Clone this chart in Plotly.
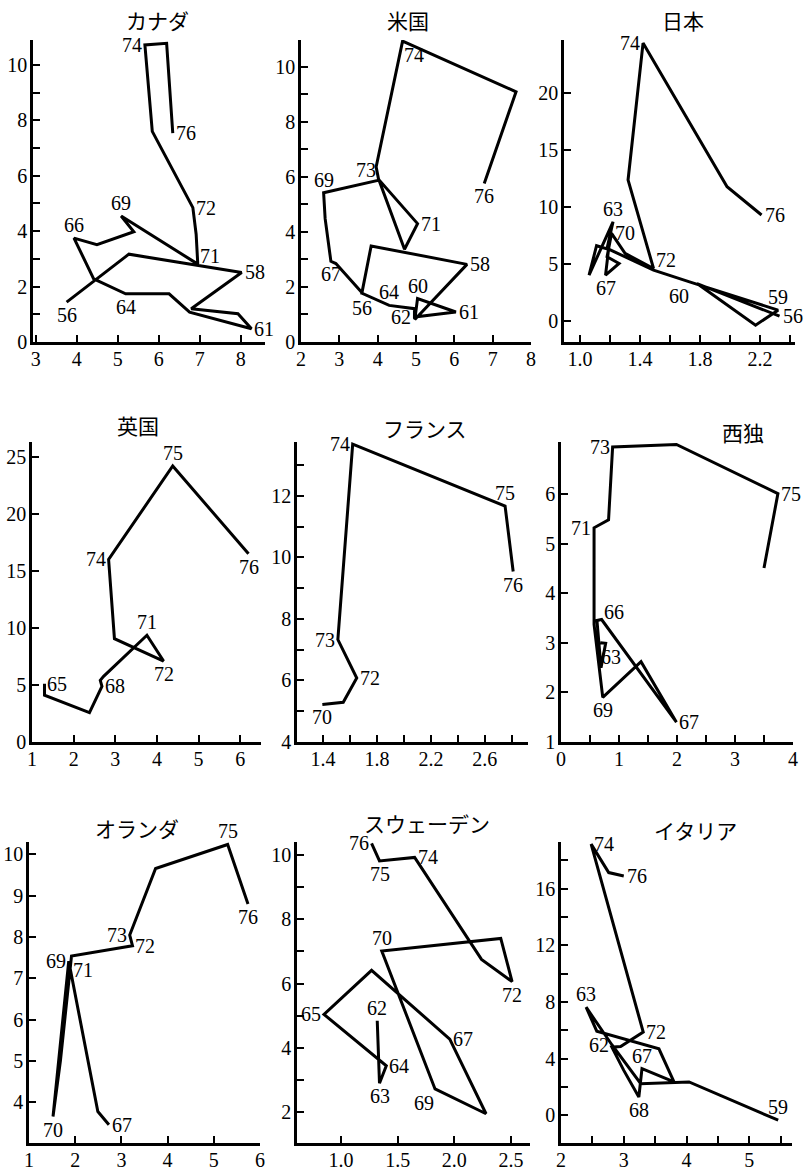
import plotly.graph_objects as go

W, H = 812, 1170

# ---------------- data (x = unemployment %, y = inflation %) ----------------
CAN_YEAR = [56, 57, 58, 59, 60, 61, 62, 63, 64, 65, 66, 67, 68, 69, 71, None, 72, 73, 74, 75, 76]
CAN_U = [3.75, 5.27, 8.02, 6.79, 7.93, 8.26, 6.75, 6.25, 5.19, 4.41, 3.93, 4.49, 5.39, 5.08, 6.95, 6.91, 6.83, 5.84, 5.66, 6.19, 6.34]
CAN_P = [1.44, 3.17, 2.51, 1.20, 1.02, 0.48, 1.08, 1.74, 1.74, 2.28, 3.75, 3.51, 3.98, 4.55, 2.81, 3.89, 4.85, 7.60, 10.72, 10.78, 7.54]

USA_YEAR = [56, 57, 58, 59, 60, 61, 62, 63, 64, 65, 66, 67, 68, 69, 70, 71, 72, 73, None, 74, 75, 76]
USA_U = [3.58, 3.83, 6.33, 4.97, 5.04, 6.04, 4.96, 4.96, 4.30, 3.61, 2.91, 2.78, 2.63, 2.59, 4.04, 5.04, 4.70, 4.02, 3.96, 4.65, 7.61, 6.78]
USA_P = [1.72, 3.49, 2.82, 0.82, 1.58, 1.09, 0.91, 1.21, 1.33, 1.76, 2.85, 2.93, 4.48, 5.42, 5.88, 4.30, 3.37, 5.94, 6.36, 10.93, 9.09, 5.76]

JPN_YEAR = [56, 57, 58, 59, 60, 61, 62, 63, 64, 65, 66, 67, 68, 69, 70, 71, 72, 73, 74, 75, 76]
JPN_U = [2.33, 1.78, 2.17, 2.32, 1.73, 1.49, 1.18, 1.22, 1.06, 1.11, 1.19, 1.17, 1.26, 1.18, 1.21, 1.30, 1.49, 1.32, 1.42, 1.98, 2.21]
JPN_P = [0.41, 3.27, -0.38, 0.94, 3.42, 4.44, 6.35, 8.68, 4.01, 6.58, 6.26, 4.01, 5.03, 5.61, 7.66, 5.91, 4.59, 12.34, 24.33, 11.75, 9.27]

GBR_YEAR = [65, 66, 67, 68, 69, 70, 71, 72, 73, 74, 75, 76]
GBR_U = [1.30, 1.30, 2.38, 2.68, 2.64, 2.72, 3.76, 4.16, 2.98, 2.84, 4.38, 6.20]
GBR_P = [5.10, 4.10, 2.57, 4.88, 5.41, 5.76, 9.36, 7.10, 9.06, 16.0, 24.2, 16.5]

FRA_YEAR = [70, 71, 72, 73, 74, 75, 76]
FRA_U = [1.395, 1.55, 1.65, 1.51, 1.62, 2.75, 2.81]
FRA_P = [5.22, 5.29, 6.08, 7.33, 13.68, 11.67, 9.54]

DEU_YEAR = [63, None, 64, 65, 66, 67, 68, 69, 70, 71, 72, 73, 74, 75, 76]
DEU_U = [0.68, 0.77, 0.69, 0.62, 0.70, 1.99, 1.38, 0.72, 0.57, 0.57, 0.82, 0.89, 1.99, 3.74, 3.50]
DEU_P = [3.00, 2.99, 2.50, 3.45, 3.47, 1.40, 2.62, 1.90, 3.37, 5.32, 5.48, 6.95, 7.00, 6.01, 4.51]

NLD_YEAR = [67, 68, 69, 70, None, 71, 72, 73, 74, 75, 76]
NLD_U = [2.73, 2.49, 1.86, 1.52, 1.68, 1.92, 3.24, 3.18, 3.74, 5.30, 5.74]
NLD_P = [3.46, 3.78, 7.42, 3.66, 5.01, 7.54, 7.79, 8.05, 9.66, 10.24, 8.80]

SWE_YEAR = [62, 63, 64, 65, 66, 67, 68, 69, 70, 71, 72, 73, 74, 75, 76]
SWE_U = [1.32, 1.34, 1.40, 0.85, 1.27, 1.96, 2.28, 1.83, 1.36, 2.41, 2.51, 2.24, 1.65, 1.34, 1.27]
SWE_P = [4.84, 2.90, 3.44, 5.04, 6.41, 4.27, 1.95, 2.72, 7.01, 7.40, 6.06, 6.75, 9.92, 9.81, 10.36]

ITA_YEAR = [59, 60, 61, 62, 63, 64, 65, 66, 67, 68, 69, 70, 71, 72, 74, 75, 76]
ITA_U = [5.46, 4.04, 3.27, 2.81, 2.40, 2.57, 3.56, 3.80, 3.29, 3.24, 3.00, 2.81, 2.95, 3.31, 2.48, 2.76, 3.00]
ITA_P = [-0.35, 2.35, 2.23, 4.98, 7.63, 5.94, 4.69, 2.35, 3.29, 1.29, 3.17, 4.81, 4.86, 5.87, 19.15, 17.14, 16.90]

# year labels shown on each curve, with the side they sit on
CAN_LAB = {74: "l", 76: "r", 72: "r", 69: "t", 66: "t", 71: "tr", 58: "r", 56: "b", 64: "b", 61: "r"}
USA_LAB = {74: "br", 73: "tl", 69: "t", 71: "r", 67: "b", 58: "r", 56: "b", 64: "t", 60: "t", 62: "l", 61: "r", 76: "b"}
JPN_LAB = {74: "l", 63: "t", 70: "r", 72: "tr", 67: "b", 60: "bl", 59: "t", 56: "r", 76: "r"}
GBR_LAB = {65: "r", 68: "r", 71: "t", 72: "b", 74: "l", 75: "t", 76: "b"}
FRA_LAB = {74: "l", 75: "t", 76: "b", 73: "l", 72: "r", 70: "b"}
DEU_LAB = {73: "l", 71: "l", 66: "tr", 63: "br", 69: "b", 67: "r", 75: "r"}
NLD_LAB = {75: "t", 76: "b", 73: "l", 72: "r", 69: "l", 71: "br", 70: "b", 67: "r"}
SWE_LAB = {76: "l", 75: "b", 74: "r", 70: "t", 72: "b", 65: "l", 62: "t", 64: "r", 63: "b", 69: "bl", 67: "r"}
ITA_LAB = {74: "r", 76: "r", 63: "t", 72: "r", 62: "l", 67: "t", 68: "b", 59: "t"}

TITLES = ["カナダ", "米国", "日本", "英国", "フランス", "西独", "オランダ", "スウェーデン", "イタリア"]

# tick values / labels
CAN_XT = [3, 4, 5, 6, 7, 8]; CAN_XL = ["3", "4", "5", "6", "7", "8"]
CAN_YT = list(range(0, 11)); CAN_YL = ["0", "", "2", "", "4", "", "6", "", "8", "", "10"]
USA_XT = [2, 3, 4, 5, 6, 7, 8]; USA_XL = ["2", "3", "4", "5", "6", "7", "8"]
USA_YT = list(range(0, 11)); USA_YL = ["0", "", "2", "", "4", "", "6", "", "8", "", "10"]
JPN_XT = [1.0, 1.2, 1.4, 1.6, 1.8, 2.0, 2.2, 2.4]; JPN_XL = ["1.0", "", "1.4", "", "1.8", "", "2.2", ""]
JPN_YT = [0, 5, 10, 15, 20]; JPN_YL = ["0", "5", "10", "15", "20"]
GBR_XT = [1, 2, 3, 4, 5, 6]; GBR_XL = ["1", "2", "3", "4", "5", "6"]
GBR_YT = [0, 5, 10, 15, 20, 25]; GBR_YL = ["0", "5", "10", "15", "20", "25"]
FRA_XT = [1.4, 1.6, 1.8, 2.0, 2.2, 2.4, 2.6, 2.8]; FRA_XL = ["1.4", "", "1.8", "", "2.2", "", "2.6", ""]
FRA_YT = list(range(4, 14)); FRA_YL = ["4", "", "6", "", "8", "", "10", "", "12", ""]
DEU_XT = [0, 0.5, 1, 1.5, 2, 2.5, 3, 3.5, 4]; DEU_XL = ["0", "", "1", "", "2", "", "3", "", "4"]
DEU_YT = [1, 2, 3, 4, 5, 6]; DEU_YL = ["1", "2", "3", "4", "5", "6"]
NLD_XT = [1, 2, 3, 4, 5, 6]; NLD_XL = ["1", "2", "3", "4", "5", "6"]
NLD_YT = [4, 5, 6, 7, 8, 9, 10]; NLD_YL = ["4", "5", "6", "7", "8", "9", "10"]
SWE_XT = [1.0, 1.5, 2.0, 2.5]; SWE_XL = ["1.0", "1.5", "2.0", "2.5"]
SWE_YT = list(range(2, 11)); SWE_YL = ["2", "", "4", "", "6", "", "8", "", "10"]
ITA_XT = [2, 2.5, 3, 3.5, 4, 4.5, 5, 5.5]; ITA_XL = ["2", "", "3", "", "4", "", "5", ""]
ITA_YT = list(range(0, 19, 2)); ITA_YL = ["0", "", "4", "", "8", "", "12", "", "16", ""]

# ---------------- layout of the 9 panels (pixel boxes) ----------------
panels = [
    (CAN_YEAR, CAN_U, CAN_P, CAN_LAB, CAN_XT, CAN_XL, CAN_YT, CAN_YL, (33, 265), (40, 342), (2.93, 8.59), (0, 10.9), (157, 20)),
    (USA_YEAR, USA_U, USA_P, USA_LAB, USA_XT, USA_XL, USA_YT, USA_YL, (301, 531), (40, 342), (2.0, 8.0), (0, 10.97), (408, 20)),
    (JPN_YEAR, JPN_U, JPN_P, JPN_LAB, JPN_XT, JPN_XL, JPN_YT, JPN_YL, (564, 795), (40, 342), (0.893, 2.433), (-1.85, 24.6), (683, 20)),
    (GBR_YEAR, GBR_U, GBR_P, GBR_LAB, GBR_XT, GBR_XL, GBR_YT, GBR_YL, (32, 261), (442, 742), (1.0, 6.5), (0, 26.3), (138, 425)),
    (FRA_YEAR, FRA_U, FRA_P, FRA_LAB, FRA_XT, FRA_XL, FRA_YT, FRA_YL, (297, 528), (442, 742), (1.207, 2.92), (4, 13.75), (425, 428)),
    (DEU_YEAR, DEU_U, DEU_P, DEU_LAB, DEU_XT, DEU_XL, DEU_YT, DEU_YL, (561, 793), (442, 742), (0, 4.0), (1, 7.05), (743, 432)),
    (NLD_YEAR, NLD_U, NLD_P, NLD_LAB, NLD_XT, NLD_XL, NLD_YT, NLD_YL, (29, 260), (842, 1143), (1.0, 6.0), (3.02, 10.3), (137, 828)),
    (SWE_YEAR, SWE_U, SWE_P, SWE_LAB, SWE_XT, SWE_XL, SWE_YT, SWE_YL, (297, 530), (842, 1143), (0.612, 2.668), (1.04, 10.4), (427, 823)),
    (ITA_YEAR, ITA_U, ITA_P, ITA_LAB, ITA_XT, ITA_XL, ITA_YT, ITA_YL, (561, 792), (842, 1143), (2.0, 5.68), (-1.96, 19.3), (695, 830)),
]

NUM_FONT = dict(family="Liberation Serif, Times New Roman, serif", size=20, color="black")
TITLE_FONT = dict(family="Noto Sans CJK JP, sans-serif", size=21, color="black")

POS = {
    "l": dict(xanchor="right", yanchor="middle", xshift=-2, yshift=0),
    "r": dict(xanchor="left", yanchor="middle", xshift=2, yshift=0),
    "t": dict(xanchor="center", yanchor="bottom", xshift=0, yshift=1),
    "b": dict(xanchor="center", yanchor="top", xshift=0, yshift=-1),
    "tl": dict(xanchor="right", yanchor="bottom", xshift=-1, yshift=-4),
    "tr": dict(xanchor="left", yanchor="bottom", xshift=1, yshift=-4),
    "bl": dict(xanchor="right", yanchor="top", xshift=0, yshift=-2),
    "br": dict(xanchor="left", yanchor="top", xshift=0, yshift=-2),
}

fig = go.Figure()
annotations = []
layout_axes = {}

for i, (yrs, xs, ys, labs, xt, xl, yt, yl, xpx, ypx, xr, yr, tpos) in enumerate(panels, start=1):
    xa = "x" if i == 1 else f"x{i}"
    ya = "y" if i == 1 else f"y{i}"
    fig.add_trace(go.Scatter(
        x=xs, y=ys, mode="lines", xaxis=xa, yaxis=ya,
        line=dict(color="black", width=3), cliponaxis=False,
        hoverinfo="skip", showlegend=False,
    ))
    common = dict(
        showline=True, linecolor="black", linewidth=2.5, ticks="inside", ticklen=7,
        tickwidth=2, tickcolor="black", showgrid=False, zeroline=False,
        tickfont=NUM_FONT, fixedrange=True, automargin=False,
    )
    layout_axes["xaxis" if i == 1 else f"xaxis{i}"] = dict(
        domain=[xpx[0] / W, xpx[1] / W], range=list(xr), anchor=ya,
        tickmode="array", tickvals=xt, ticktext=xl, ticklabelstandoff=-3, **common)
    layout_axes["yaxis" if i == 1 else f"yaxis{i}"] = dict(
        domain=[1 - ypx[1] / H, 1 - ypx[0] / H], range=list(yr), anchor=xa,
        tickmode="array", tickvals=yt, ticktext=yl, ticklabelstandoff=-1, **common)
    for yr_, side in labs.items():
        k = yrs.index(yr_)
        p = POS[side]
        annotations.append(dict(
            x=xs[k], y=ys[k], xref=xa, yref=ya, text=str(yr_), showarrow=False,
            font=NUM_FONT, xanchor=p["xanchor"], yanchor=p["yanchor"],
            xshift=p["xshift"], yshift=p["yshift"], borderpad=0))
    annotations.append(dict(
        x=tpos[0] / W, y=1 - tpos[1] / H, xref="paper", yref="paper",
        text=TITLES[i - 1], showarrow=False, font=TITLE_FONT,
        xanchor="center", yanchor="middle"))

fig.update_layout(
    width=W, height=H, margin=dict(l=0, r=0, t=0, b=0, autoexpand=False),
    paper_bgcolor="white", plot_bgcolor="white",
    annotations=annotations, showlegend=False, **layout_axes,
)

# remove the browser's default page margin so the figure sits at the window's corner
fig.write_html(
    "out.html", config={"displayModeBar": False},
    post_script="document.body.style.margin='0px';document.body.style.overflow='hidden';",
)
